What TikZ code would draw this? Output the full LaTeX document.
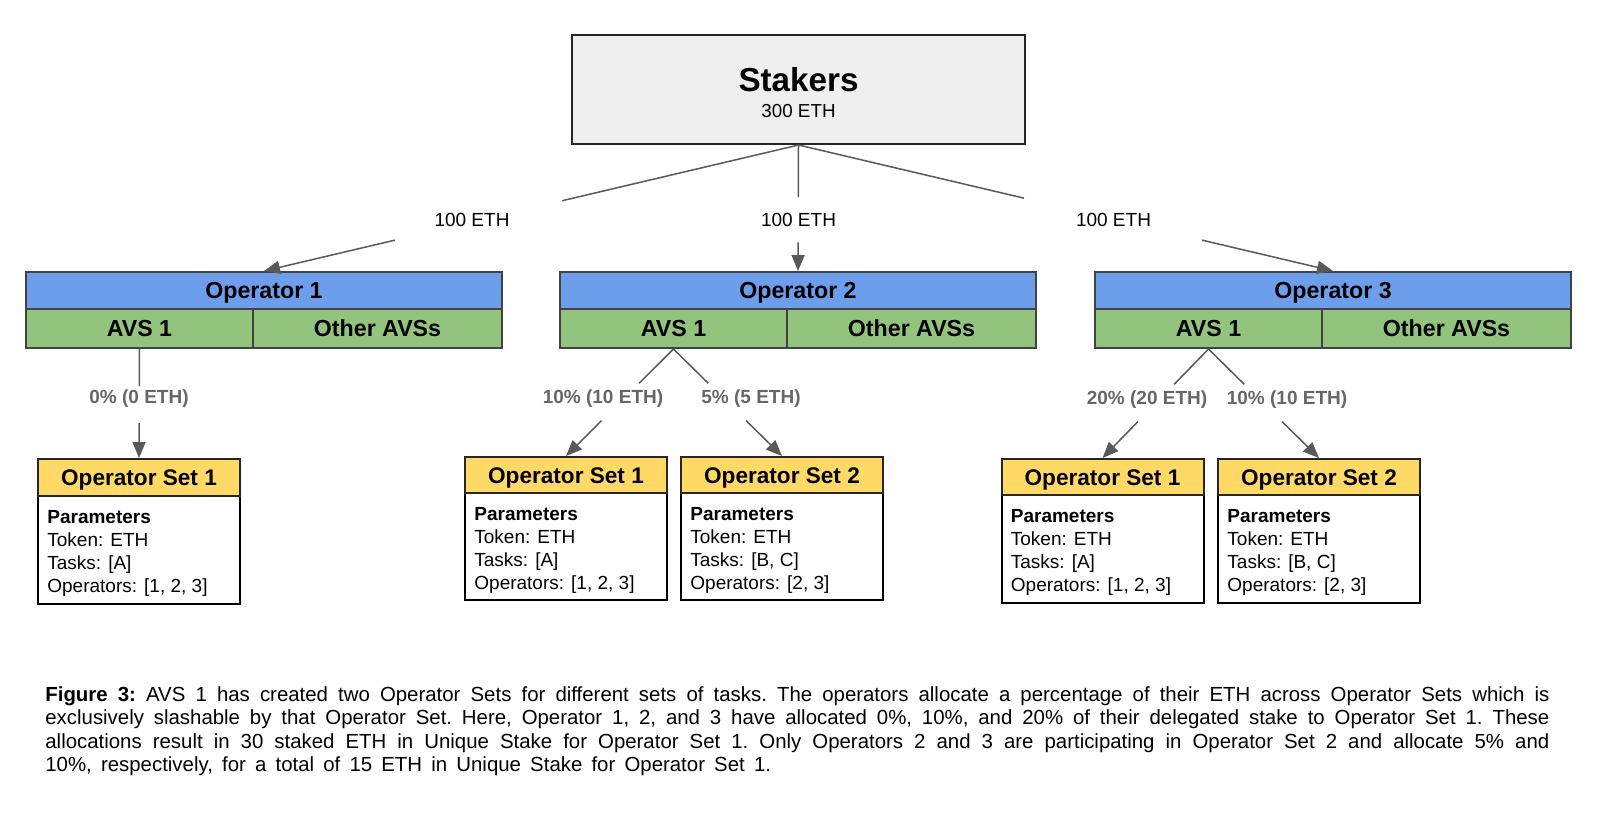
\documentclass[tikz,border=0pt]{standalone}
\usepackage{fontspec}
\setmainfont{Liberation Sans}
\usetikzlibrary{arrows.meta,calc}
\definecolor{opblue}{HTML}{6D9EEB}
\definecolor{avsgreen}{HTML}{93C47D}
\definecolor{setyellow}{HTML}{FFD966}
\definecolor{stkgray}{HTML}{EFEFEF}
\definecolor{linegray}{HTML}{595959}
\definecolor{boxedge}{HTML}{434343}
\definecolor{pctgray}{HTML}{666666}
\begin{document}
\begin{tikzpicture}[x=0.5pt,y=-0.5pt,
  cell/.style={draw=boxedge, line width=1pt, inner sep=0pt, text height=0.84em, text depth=0pt,
    font=\fontsize{11.6}{13}\selectfont\bfseries},
  opcell/.style={cell, fill=opblue, minimum width=238pt, minimum height=18.5pt},
  avscell/.style={cell, fill=avsgreen, minimum width=113.5pt, minimum height=19.5pt},
  othcell/.style={cell, fill=avsgreen, minimum width=124.5pt, minimum height=19.5pt},
  stkbox/.style={draw=black!85, line width=1pt, fill=stkgray, minimum width=226.5pt, minimum height=54.5pt, inner sep=0pt},
  settitle/.style={draw=black!85, line width=1pt, fill=setyellow, minimum width=101pt, inner sep=0pt,
    text height=0.8em, text depth=0pt, font=\fontsize{11.3}{13}\selectfont\bfseries},
  setbody/.style={draw=black, line width=1pt, fill=white, minimum width=101pt, inner sep=0pt},
  partext/.style={anchor=north west, inner sep=0pt, align=left, font=\fontsize{9.5}{11.5}\selectfont},
  toplbl/.style={inner sep=0pt, text height=0.72em, text depth=0pt, font=\fontsize{9.5}{11}\selectfont},
  pctlbl/.style={inner sep=0pt, text height=0.72em, text depth=0pt, text=pctgray, font=\fontsize{9.5}{11}\selectfont\bfseries},
  conn/.style={draw=linegray, line width=0.75pt},
  arr/.style={-{Triangle[length=8pt,width=6.5pt]}, draw=linegray, fill=linegray}
]
\fill[white] (0,0) rectangle (1600,816);
\useasboundingbox (0,0) rectangle (1600,816);

% Stakers
\node[stkbox] (st) at (798.5,89.5) {};
\node[anchor=base, inner sep=0pt, font=\fontsize{16.6}{20}\selectfont\bfseries] (stt) at (798.5,91) {Stakers};
\node[anchor=base, inner sep=0pt, font=\fontsize{9.4}{11}\selectfont] (stv) at (798.5,117) {300 ETH};

% Operators
\node[opcell] (op1) at (264,290.5) {Operator 1};
\node[avscell] (a1) at (139.5,328.5) {AVS 1};
\node[othcell] (o1) at (377.5,328.5) {Other AVSs};

\node[opcell] (op2) at (798,290.5) {Operator 2};
\node[avscell] (a2) at (673.5,328.5) {AVS 1};
\node[othcell] (o2) at (911.5,328.5) {Other AVSs};

\node[opcell] (op3) at (1333,290.5) {Operator 3};
\node[avscell] (a3) at (1208.5,328.5) {AVS 1};
\node[othcell] (o3) at (1446.5,328.5) {Other AVSs};

% top connectors
\draw[conn] (st.south) -- ($(st.south)!0.442!(op1.north)$);
\draw[conn,arr] ($(st.south)!0.755!(op1.north)$) -- (op1.north);
\draw[conn] (st.south) -- ($(st.south)!0.414!(op2.north)$);
\draw[conn,arr] ($(st.south)!0.773!(op2.north)$) -- (op2.north);
\draw[conn] (st.south) -- ($(st.south)!0.422!(op3.north)$);
\draw[conn,arr] ($(st.south)!0.755!(op3.north)$) -- (op3.north);
\node[toplbl] (l1) at (472,219) {100 ETH};
\node[toplbl] (l2) at (798.5,219.5) {100 ETH};
\node[toplbl] (l3) at (1113.5,219) {100 ETH};

% Operator sets
\node[setbody, minimum height=54pt] (ob11) at (139,550) {};
\node[settitle, minimum height=18.5pt] (os11) at (139,477.5) {Operator Set 1};
\node[partext] (pt11) at ($(ob11.north west)+(10,15.5)$) {\textbf{Parameters}\\Token: ETH\\Tasks: [A]\\Operators: [1, 2, 3]};

\node[setbody, minimum height=53.5pt] (ob21) at (566,546.5) {};
\node[settitle, minimum height=18pt] (os21) at (566,475) {Operator Set 1};
\node[partext] (pt21) at ($(ob21.north west)+(10,15.5)$) {\textbf{Parameters}\\Token: ETH\\Tasks: [A]\\Operators: [1, 2, 3]};

\node[setbody, minimum height=53.5pt] (ob22) at (782,546.5) {};
\node[settitle, minimum height=18pt] (os22) at (782,475) {Operator Set 2};
\node[partext] (pt22) at ($(ob22.north west)+(10,15.5)$) {\textbf{Parameters}\\Token: ETH\\Tasks: [B, C]\\Operators: [2, 3]};

\node[setbody, minimum height=54pt] (ob31) at (1102.5,549) {};
\node[settitle, minimum height=18pt] (os31) at (1102.5,477) {Operator Set 1};
\node[partext] (pt31) at ($(ob31.north west)+(10,15.5)$) {\textbf{Parameters}\\Token: ETH\\Tasks: [A]\\Operators: [1, 2, 3]};

\node[setbody, minimum height=54pt] (ob32) at (1319,549) {};
\node[settitle, minimum height=18pt] (os32) at (1319,477) {Operator Set 2};
\node[partext] (pt32) at ($(ob32.north west)+(10,15.5)$) {\textbf{Parameters}\\Token: ETH\\Tasks: [B, C]\\Operators: [2, 3]};

% lower connectors
\draw[conn] (a1.south) -- ($(a1.south)!0.34!(os11.north)$);
\draw[conn,arr] ($(a1.south)!0.68!(os11.north)$) -- (os11.north);
\draw[conn] (a2.south) -- ($(a2.south)!0.32!(os21.north)$);
\draw[conn,arr] ($(a2.south)!0.67!(os21.north)$) -- (os21.north);
\draw[conn] (a2.south) -- ($(a2.south)!0.32!(os22.north)$);
\draw[conn,arr] ($(a2.south)!0.67!(os22.north)$) -- (os22.north);
\draw[conn] (a3.south) -- ($(a3.south)!0.324!(os31.north)$);
\draw[conn,arr] ($(a3.south)!0.667!(os31.north)$) -- (os31.north);
\draw[conn] (a3.south) -- ($(a3.south)!0.324!(os32.north)$);
\draw[conn,arr] ($(a3.south)!0.667!(os32.north)$) -- (os32.north);

\node[pctlbl] (p1) at (139,396.5) {0\% (0 ETH)};
\node[pctlbl] (p21) at (603,396) {10\% (10 ETH)};
\node[pctlbl] (p22) at (751,396) {5\% (5 ETH)};
\node[pctlbl] (p31) at (1147,397.5) {20\% (20 ETH)};
\node[pctlbl] (p32) at (1287,397.5) {10\% (10 ETH)};

% caption
\node[anchor=north west, inner sep=0pt, text width=752pt, align=justify,
  font=\fontsize{10.2}{11.7}\selectfont] (cap) at (45,686) {\frenchspacing\hyphenpenalty=10000\exhyphenpenalty=10000\tolerance=9999%
\spaceskip=0.45em plus 0.5em minus 0.2em\xspaceskip=\spaceskip
\textbf{Figure 3:} AVS 1 has created two Operator Sets for different sets of tasks. The operators allocate a percentage of their ETH across Operator Sets which is\linebreak
exclusively slashable by that Operator Set. Here, Operator 1, 2, and 3 have allocated 0\%, 10\%, and 20\% of their delegated stake to Operator Set 1. These\linebreak
allocations result in 30 staked ETH in Unique Stake for Operator Set 1. Only Operators 2 and 3 are participating in Operator Set 2 and allocate 5\% and\linebreak
10\%, respectively, for a total of 15 ETH in Unique Stake for Operator Set 1.};
\end{tikzpicture}
\end{document}
